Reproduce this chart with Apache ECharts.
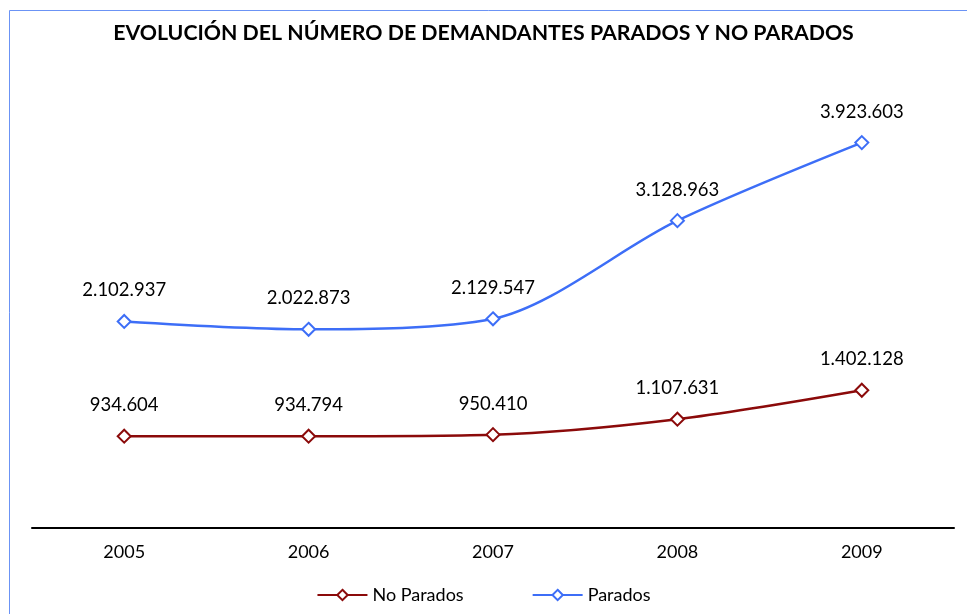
<!DOCTYPE html>
<html><head><meta charset="utf-8">
<script src="https://cdn.jsdelivr.net/npm/echarts@6/dist/echarts.min.js"></script>
<style>html,body{margin:0;padding:0;background:#fff}#c{width:967px;height:614px}</style>
</head><body><div id="c"></div>
<script>
var title = 'EVOLUCIÓN DEL NÚMERO DE DEMANDANTES PARADOS Y NO PARADOS';
var years = ['2005', '2006', '2007', '2008', '2009'];
var noParados = [934604, 934794, 950410, 1107631, 1402128];
var parados = [2102937, 2022873, 2129547, 3128963, 3923603];

function fmt(v) {
  return String(v).replace(/\B(?=(\d{3})+(?!\d))/g, '.');
}
var chart = echarts.init(document.getElementById('c'));
var font = 'Lato, "Open Sans", sans-serif';
var lbl = { show: true, position: 'top', distance: 14, color: '#000', fontSize: 18.5, fontFamily: font,
  formatter: function (p) { return fmt(p.value); } };
chart.setOption({
  animation: false,
  backgroundColor: '#fff',
  graphic: [
    { type: 'line', shape: { x1: 9.5, y1: 10.5, x2: 967, y2: 10.5 }, style: { stroke: '#6b93f5', lineWidth: 1 } },
    { type: 'line', shape: { x1: 9.5, y1: 10.5, x2: 9.5, y2: 614 }, style: { stroke: '#6b93f5', lineWidth: 1 } }
  ],
  title: { text: title, left: 'center', top: 18, textStyle: { fontFamily: font, fontWeight: 'bold', fontSize: 21.3, color: '#000' } },
  grid: { left: 32, right: 13, top: 86, bottom: 86 },
  legend: {
    bottom: 5, left: 'center', itemGap: 68, itemWidth: 50, itemHeight: 13,
    textStyle: { fontFamily: font, fontSize: 18, color: '#000' },
    data: ['No Parados', 'Parados']
  },
  xAxis: {
    type: 'category', data: years, boundaryGap: true,
    axisLine: { lineStyle: { color: '#000', width: 2 } },
    axisTick: { show: false },
    axisLabel: { color: '#000', fontSize: 18, fontFamily: font, margin: 15 }
  },
  yAxis: { type: 'value', min: 0, max: 4500000, show: false, splitLine: { show: false } },
  series: [
    { name: 'No Parados', type: 'line', data: noParados, smooth: 0.3, symbol: 'emptyDiamond', symbolSize: 13,
      itemStyle: { color: '#8b0a0a', borderWidth: 2.5 },
      lineStyle: { color: '#8b0a0a', width: 2.5 }, label: lbl,
      emphasis: { disabled: true } },
    { name: 'Parados', type: 'line', data: parados, smooth: 0.3, symbol: 'emptyDiamond', symbolSize: 13,
      itemStyle: { color: '#3d6ef7', borderWidth: 2.5 },
      lineStyle: { color: '#3d6ef7', width: 2.5 }, label: lbl,
      emphasis: { disabled: true } }
  ]
});
</script></body></html>
